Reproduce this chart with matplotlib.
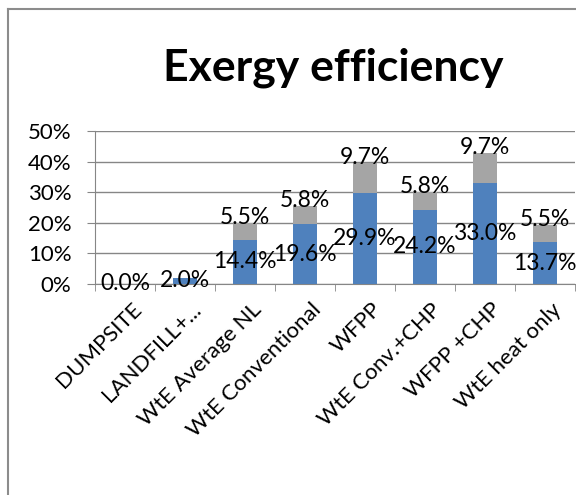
import numpy as np
import matplotlib
matplotlib.use("Agg")
import matplotlib.pyplot as plt
import matplotlib.transforms as mtransforms
from matplotlib.lines import Line2D

categories = ['DUMPSITE', 'LANDFILL+...', 'WtE Average NL', 'WtE Conventional',
              'WFPP', 'WtE Conv.+CHP', 'WFPP +CHP', 'WtE heat only']
base_eff = [0.0, 2.0, 14.4, 19.6, 29.9, 24.2, 33.0, 13.7]
extra_eff = [np.nan, np.nan, 5.5, 5.8, 9.7, 5.8, 9.7, 5.5]
y_ticks = [0, 10, 20, 30, 40, 50]

plt.rcParams['font.family'] = ['Lato', 'DejaVu Sans']

blue = '#4F81BD'
grey = '#A5A5A5'
linecol = '#868686'

fig = plt.figure(figsize=(5.76, 4.95), dpi=100)
ax = fig.add_axes([95 / 576, 1 - 284 / 495, 480 / 576, 153 / 495])

x = np.arange(len(categories))
base = np.array(base_eff)
extra = np.nan_to_num(np.array(extra_eff))
ax.bar(x, base, width=0.4, color=blue, zorder=3)
ax.bar(x, extra, width=0.4, bottom=base, color=grey, zorder=3)

# data labels
for i in range(len(categories)):
    ax.text(x[i], base[i] / 2, '%.1f%%' % base_eff[i], ha='center', va='center',
            fontsize=16.5, color='black', zorder=4)
    if not np.isnan(extra_eff[i]):
        ax.annotate('%.1f%%' % extra_eff[i], (x[i], base[i] + extra[i]),
                    xytext=(0, 4), textcoords='offset points',
                    ha='center', va='center', fontsize=16.5, zorder=4)

ax.set_xlim(-0.5, len(categories) - 0.5)
ax.set_ylim(0, 50)
ax.set_yticks(y_ticks)
ax.set_yticklabels(['%d%%' % t for t in y_ticks], fontsize=16)
ax.yaxis.grid(True, color=linecol, linewidth=1)
ax.set_axisbelow(True)

ax.set_xticks(x)
ax.set_xticklabels(categories, rotation=45, ha='right', rotation_mode='anchor', fontsize=16)
ax.set_xticks(np.arange(-0.5, len(categories)), minor=True)
ax.tick_params(axis='x', which='major', length=0, pad=11)
ax.tick_params(axis='x', which='minor', length=5, color=linecol, direction='out')
ax.tick_params(axis='y', length=6, color=linecol, pad=11)

shift = mtransforms.ScaledTranslation(6 / 100, 0, fig.dpi_scale_trans)
for lbl in ax.get_xticklabels():
    lbl.set_transform(lbl.get_transform() + shift)

for s in ['top', 'right']:
    ax.spines[s].set_visible(False)
for s in ['left', 'bottom']:
    ax.spines[s].set_color(linecol)

fig.text(333 / 576, 1 - 68 / 495, 'Exergy efficiency', ha='center', va='center',
         fontsize=32, fontweight='bold')

# chart frame (top and left edges visible)
fig.add_artist(Line2D([8 / 576, 8 / 576], [0, 1 - 9 / 495], color='#8C8C8C', lw=1.5,
                      transform=fig.transFigure))
fig.add_artist(Line2D([8 / 576, 1], [1 - 9 / 495, 1 - 9 / 495], color='#8C8C8C', lw=1.5,
                      transform=fig.transFigure))

fig.savefig('out.png', dpi=100)
